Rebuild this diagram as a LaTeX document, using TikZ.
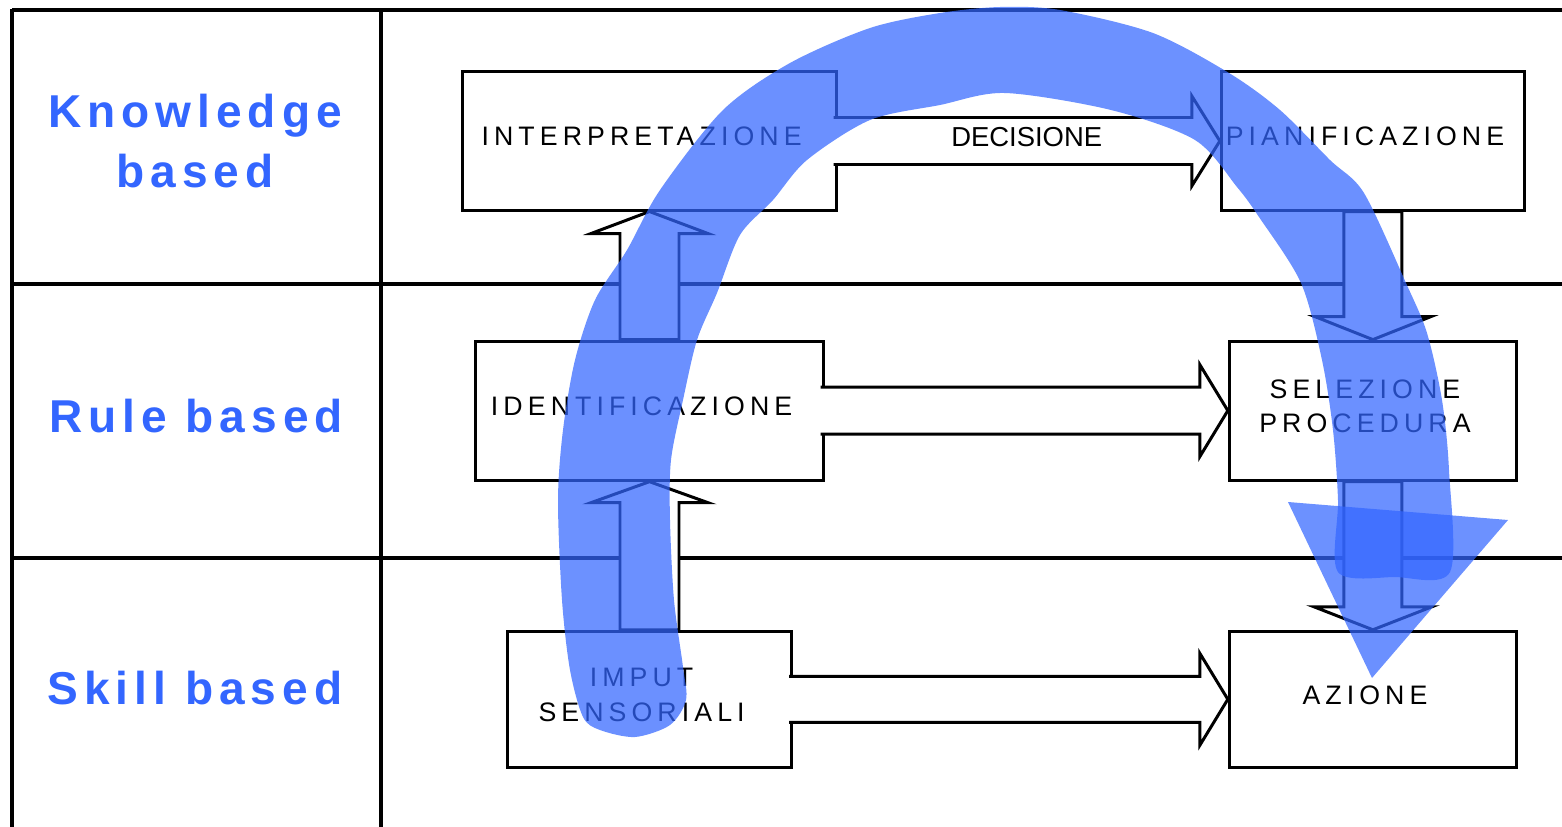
\documentclass[tikz,border=0pt]{standalone}
\usepackage{fontspec}
\usepackage{xcolor}
\setmainfont{Liberation Sans}
\newfontfamily\levelfont[LetterSpace=13]{Liberation Sans}
\newfontfamily\boxfont[LetterSpace=19]{Liberation Sans}
\definecolor{levelblue}{RGB}{51,102,255}
\newcommand{\pad}{\kern4.5pt}
\usetikzlibrary{positioning, calc}

\begin{document}
\begin{tikzpicture}[x=0.01cm, y=-0.01cm, node distance=1.28cm,
        gridline/.style={line width=0.9pt},
        procbox/.style={draw, line width=0.85pt, fill=white, inner sep=0pt,
            minimum height=1.38cm, text depth=2.5pt, align=center,
            font=\boxfont\fontsize{7.6}{9.8}\selectfont},
        levellabel/.style={text=levelblue, align=center,
            font=\levelfont\bfseries\fontsize{13.1}{16.8}\selectfont},
        blockarrow/.style={draw, fill=white, line width=0.85pt},
        bluearc/.style={fill=levelblue, fill opacity=0.72}]
        \useasboundingbox (0,0) rectangle (1562,827);

        % table of the three levels
        \draw[gridline, line width=1.3pt] (12,10) -- (1562,10);
        \draw[gridline] (12,9) -- (12,827);
        \draw[gridline] (381,10) -- (381,827);
        \draw[gridline] (12,284) -- (1562,284);
        \draw[gridline] (12,558) -- (1562,558);

        \node[levellabel] (knowledge) at (195,141) {Knowledge\\based};
        \node[levellabel] (rule) at (196,416) {Rule based};
        \node[levellabel] (skill) at (195,688) {Skill based};

        % boxes
        \node[procbox, minimum width=3.73cm] (interp) at (649.5,141) {INTERPRETAZIONE\pad};
        \node[procbox, minimum width=3.03cm] (pian) [right=3.82cm of interp] {PIANIFICAZIONE\pad};
        \node[procbox, minimum width=3.47cm, minimum height=1.39cm] (ident) [below=of interp] {IDENTIFICAZIONE\pad};
        \node[procbox, minimum width=2.87cm, minimum height=1.39cm] (selez) [below=of pian] {SELEZIONE\pad\\PROCEDURA\pad};
        \node[procbox, minimum width=2.84cm, minimum height=1.36cm] (imput) [below=1.48cm of ident] {IMPUT\pad\\SENSORIALI\pad};
        \node[procbox, minimum width=2.87cm, minimum height=1.36cm] (azione) [below=1.48cm of selez] {AZIONE\pad};

        % horizontal block arrows
        \path[blockarrow] ($(interp.east)+(-4,-23.5)$) -- ($(pian.west)+(-28,-23.5)$)
            -- ($(pian.west)+(-28,-45)$) -- (pian.west) -- ($(pian.west)+(-28,45)$)
            -- ($(pian.west)+(-28,23.5)$) -- ($(interp.east)+(-4,23.5)$);
        \path[blockarrow] ($(ident.east)+(-4,-23.5)$) -- ($(selez.west)+(-28,-23.5)$)
            -- ($(selez.west)+(-28,-46)$) -- (selez.west) -- ($(selez.west)+(-28,46)$)
            -- ($(selez.west)+(-28,23.5)$) -- ($(ident.east)+(-4,23.5)$);
        \path[blockarrow] ($(imput.east)+(-4,-23)$) -- ($(azione.west)+(-28,-23)$)
            -- ($(azione.west)+(-28,-46)$) -- (azione.west) -- ($(azione.west)+(-28,46)$)
            -- ($(azione.west)+(-28,23)$) -- ($(imput.east)+(-4,23)$);
        \node[font=\fontsize{7.8}{9.8}\selectfont] (decisione)
            at ($(interp.east)!0.5!(pian.west)+(-2,-4)$) {DECISIONE};

        % vertical block arrows
        \path[blockarrow] ($(imput.north)+(-29.5,0)$) -- ($(ident.south)+(-29.5,21)$)
            -- ($(ident.south)+(-58.5,21)$) -- (ident.south) -- ($(ident.south)+(58.5,21)$)
            -- ($(ident.south)+(29.5,21)$) -- ($(imput.north)+(29.5,0)$) -- cycle;
        \path[blockarrow] ($(ident.north)+(-29.5,0)$) -- ($(interp.south)+(-29.5,22)$)
            -- ($(interp.south)+(-58.5,22)$) -- (interp.south) -- ($(interp.south)+(58.5,22)$)
            -- ($(interp.south)+(29.5,22)$) -- ($(ident.north)+(29.5,0)$) -- cycle;
        \path[blockarrow] ($(pian.south)+(-29,0)$) -- ($(selez.north)+(-29,-23)$)
            -- ($(selez.north)+(-58,-23)$) -- (selez.north) -- ($(selez.north)+(58,-23)$)
            -- ($(selez.north)+(29,-23)$) -- ($(pian.south)+(29,0)$) -- cycle;
        \path[blockarrow] ($(selez.south)+(-29,0)$) -- ($(azione.north)+(-29,-23)$)
            -- ($(azione.north)+(-59,-23)$) -- (azione.north) -- ($(azione.north)+(59,-23)$)
            -- ($(azione.north)+(29,-23)$) -- ($(selez.south)+(29,0)$) -- cycle;

        % big blue arc over everything
        \fill[bluearc] plot[smooth cycle, tension=0.5] coordinates {
            (583,717) (570,670) (562,600) (558,500) (563,430) (575,360) (595,300)
            (627,250) (660,190) (723,110) (790,63) (870,28) (940,13) (1000,7)
            (1060,10) (1153,33) (1229,73) (1280,110) (1330,160) (1364,193)
            (1406,283) (1427,333) (1442,400) (1449,470) (1450,572)
            (1395,577) (1338,572)
            (1338,500) (1333,430) (1322,360) (1301,283) (1259,217) (1237,187)
            (1195,140) (1111,110) (1005,93) (940,105) (870,120) (807,160)
            (773,200) (740,235) (717,293) (697,340) (683,400) (671,460)
            (670,520) (674,600) (683,667) (686,700) (670,725)
            (635,737) (600,730)};
        \fill[bluearc] (1288,502) -- (1508,520) -- (1372,678) -- cycle;
    \end{tikzpicture}
\end{document}
